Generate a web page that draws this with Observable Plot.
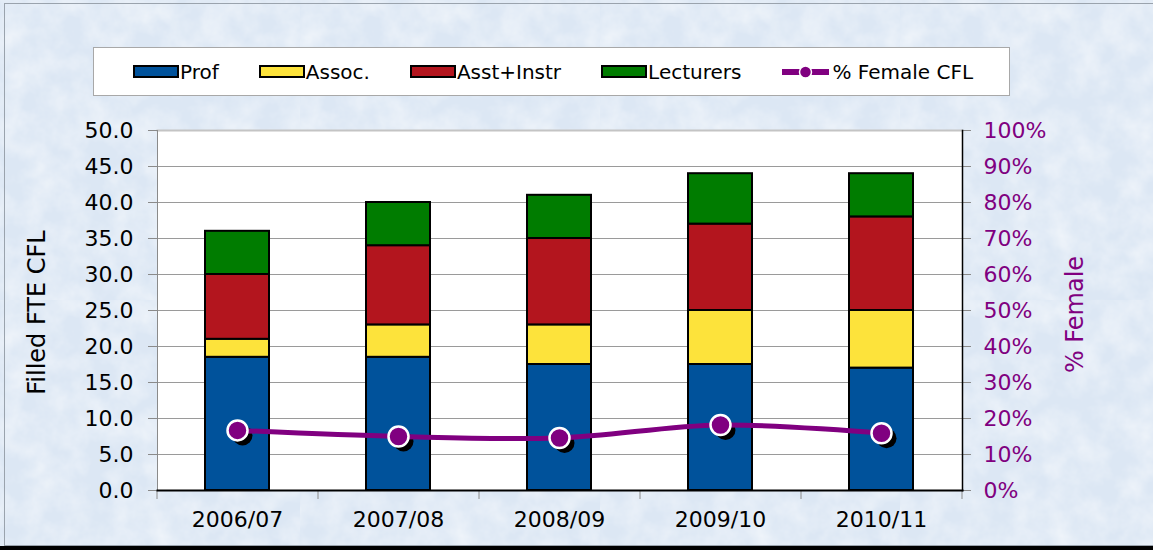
<!DOCTYPE html>
<html><head><meta charset="utf-8">
<script src="https://cdn.jsdelivr.net/npm/d3@7"></script>
<script src="https://cdn.jsdelivr.net/npm/@observablehq/plot@0.6"></script>
<style>
body{margin:0;}
#page{position:relative;width:1153px;height:550px;overflow:hidden;background-color:#dce7f4;font-family:"DejaVu Sans";}
#frame{position:absolute;left:4px;top:3px;width:1200px;height:543px;border:1px solid #9aa3ad;box-sizing:border-box}
#bottombar{position:absolute;left:0;top:546px;width:1153px;height:4px;background:#000}
#legend{position:absolute;left:93px;top:47px;width:917px;height:49px;background:#fff;border:1px solid #a8a8a8;box-sizing:border-box;display:flex;align-items:center;padding-left:39px;gap:40px;font-size:20px;color:#000}
.item{display:flex;align-items:center;}
.sw{width:46px;height:13px;border:2px solid #000;box-sizing:border-box;margin-right:1px}
#chart{position:absolute;left:0;top:100px;}
</style></head>
<body>
<div id="page">
  <div id="frame"></div>
  <div id="bottombar"></div>
  <div id="legend"></div>
  <div id="chart"></div>
</div>
<script>
const years = ["2006/07","2007/08","2008/09","2009/10","2010/11"];
const prof  = [18.5, 18.5, 17.5, 17.5, 17.0];
const assoc = [2.5, 4.5, 5.5, 7.5, 8.0];
const asst  = [9.0, 11.0, 12.0, 12.0, 13.0];
const lect  = [6.0, 6.0, 6.0, 7.0, 6.0];
const pctFemale = [16.7, 15.0, 14.6, 18.2, 15.9];
const seriesNames = ["Prof","Assoc.","Asst+Instr","Lecturers"];
const seriesColors = ["#00529b","#fde33b","#b3151e","#007c00"];
const lineName = "% Female CFL";
const lineColor = "#800080";
const leftTicks = [0,5,10,15,20,25,30,35,40,45,50];
const rightLabels = ["0%","10%","20%","30%","40%","50%","60%","70%","80%","90%","100%"];
const leftTitle = "Filled FTE CFL";
const rightTitle = "% Female";

// subtle paper texture for the page background
const tex = `<svg xmlns='http://www.w3.org/2000/svg' width='300' height='300'><filter id='n'><feTurbulence type='fractalNoise' baseFrequency='0.035' numOctaves='4' seed='3'/><feColorMatrix values='0 0 0 0 1  0 0 0 0 1  0 0 0 0 1  0 0 0 0.9 -0.3'/></filter><rect width='300' height='300' filter='url(%23n)'/></svg>`;
document.getElementById("page").style.backgroundImage = `url("data:image/svg+xml;utf8,${tex}")`;

const seriesValues = [prof, assoc, asst, lect];
const rows = years.flatMap((yr, i) => seriesNames.map((s, k) => ({year: yr, series: s, value: seriesValues[k][i]})));
// right axis: 100% corresponds to 50 on the left scale
const pctRows = years.map((yr, i) => ({year: yr, v: pctFemale[i] / 2}));

// legend
const leg = document.getElementById("legend");
seriesNames.forEach((s, k) => {
  const it = document.createElement("div"); it.className = "item";
  it.innerHTML = `<div class="sw" style="background:${seriesColors[k]}"></div><span>${s}</span>`;
  leg.appendChild(it);
});
{
  const it = document.createElement("div"); it.className = "item";
  it.innerHTML = `<svg width="50" height="16" style="margin-right:1px"><line x1="1" y1="8" x2="48" y2="8" stroke="${lineColor}" stroke-width="6"/><circle cx="24.5" cy="8" r="6" fill="${lineColor}" stroke="white" stroke-width="1.5"/></svg><span>${lineName}</span>`;
  leg.appendChild(it);
}

const chart = Plot.plot({
  width: 1153,
  height: 450,
  marginTop: 30,
  marginBottom: 60,
  marginLeft: 157,
  marginRight: 191,
  style: {fontFamily: "DejaVu Sans", fontSize: "22px", background: "transparent", overflow: "visible", color: "#000"},
  x: {domain: years, paddingInner: 0.6, paddingOuter: 0.3, axis: null},
  y: {domain: [0, 50], axis: null},
  color: {domain: seriesNames, range: seriesColors},
  marks: [
    Plot.frame({fill: "white", stroke: "none"}),
    Plot.ruleY(leftTicks.slice(1, -1), {stroke: "#9a9a9a", strokeWidth: 1}),
    Plot.frame({anchor: "top", stroke: "#c4c4c4", strokeWidth: 2}),
    Plot.frame({anchor: "left", stroke: "#8a8a8a", strokeWidth: 1}),
    Plot.barY(rows, {x: "year", y: "value", fill: "series", stroke: "black", strokeWidth: 2}),
    Plot.dot(pctRows, {x: "year", y: "v", r: 10, fill: "black", dx: 5, dy: 5}),
    Plot.line(pctRows, {x: "year", y: "v", stroke: lineColor, strokeWidth: 5, curve: "catmull-rom"}),
    Plot.dot(pctRows, {x: "year", y: "v", r: 10, fill: lineColor, stroke: "white", strokeWidth: 2.5}),
    Plot.axisY({ticks: leftTicks, tickFormat: d => d.toFixed(1), tickSize: 9, tickPadding: 15, stroke: "#8a8a8a", fill: "black", label: null, fontSize: 22}),
    Plot.axisY({anchor: "right", ticks: leftTicks, tickFormat: d => rightLabels[leftTicks.indexOf(d)], tickSize: 8, tickPadding: 13, stroke: "#8a8a8a", fill: lineColor, label: null, fontSize: 22}),
    Plot.axisX({tickSize: 0, tickPadding: 21, label: null, fontSize: 22, fill: "black"}),
    Plot.axisX({text: null, tickSize: 9, dx: -80.5, stroke: "#8a8a8a", label: null}),
    Plot.axisX({ticks: [years[years.length - 1]], text: null, tickSize: 9, dx: 80.5, stroke: "#8a8a8a", label: null}),
    Plot.frame({anchor: "bottom", stroke: "black", strokeWidth: 2}),
    Plot.frame({anchor: "right", stroke: "black", strokeWidth: 1.5}),
    Plot.text([leftTitle], {frameAnchor: "left", textAnchor: "middle", rotate: -90, dx: -120, dy: 2, fontSize: 24, fill: "black"}),
    Plot.text([rightTitle], {frameAnchor: "right", textAnchor: "middle", rotate: -90, dx: 113, dy: 4, fontSize: 24, fill: lineColor})
  ]
});
document.getElementById("chart").appendChild(chart);
</script>
</body></html>
